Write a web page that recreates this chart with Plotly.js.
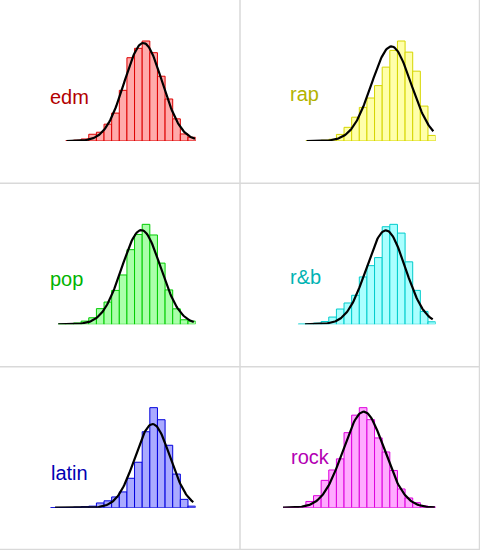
<!DOCTYPE html>
<html><head><meta charset="utf-8">
<script src="https://cdn.plot.ly/plotly-3.0.1.min.js"></script>
<style>html,body{margin:0;padding:0;background:#fff}#chart{width:480px;height:550px}</style>
</head><body><div id="chart"></div>
<script>
// ---- data (danceability-like units, shared bins of width 0.05 from 0 to 1) ----
const genres = ['edm', 'rap', 'pop', 'r&b', 'latin', 'rock'];
const binStart = 0.0;
const binWidth = 0.05;
const edmDensity   = [null,null,null,0.01,0.027,0.067,0.223,0.29,0.556,0.922,1.674,2.752,3.062,3.304,2.918,2.14,1.388,0.732,0.233,0.123];
const rapDensity   = [null,null,null,0.007,0.013,0.026,0.056,0.215,0.446,0.777,1.097,1.404,1.808,2.412,2.958,3.265,2.902,2.28,1.14,0.182];
const popDensity   = [null,null,0.01,0.02,0.044,0.108,0.22,0.525,0.745,1.134,1.651,2.497,3.005,3.344,2.988,2.047,1.151,0.518,0.152,0.108];
const rnbDensity   = [null,null,0.01,0.02,0.041,0.095,0.244,0.514,0.717,0.975,1.591,1.97,2.24,3.276,3.357,3.063,2.098,1.14,0.433,0.085];
const latinDensity = [null,0.004,0.004,0.008,0.021,0.042,0.063,0.196,0.284,0.446,0.655,1.222,1.889,3.157,4.158,3.657,2.594,1.397,0.346,0.063];
const rockDensity  = [0.009,0.015,0.037,0.192,0.371,0.845,1.166,1.51,2.321,2.862,3.094,2.723,2.157,1.723,1.151,0.579,0.3,0.155,0.053,0.025];
const genreMean = [0.657, 0.710, 0.644, 0.674, 0.718, 0.529];
const genreSd   = [0.1232, 0.1291, 0.1265, 0.1265, 0.1147, 0.1343];
const genreMin  = [0.155, 0.155, 0.100, 0.144, 0.079, 0.000];
const genreMax  = [0.996, 0.985, 0.988, 0.981, 0.985, 0.995];

// ---- styles ----
const densities = [edmDensity, rapDensity, popDensity, rnbDensity, latinDensity, rockDensity];
const fillCol = ['#ffaaaa', '#ffffaa', '#aaffaa', '#aaffff', '#aaaaff', '#ffaaff'];
const edgeCol = ['#dd0000', '#d6d600', '#00cc00', '#00cccc', '#0000dd', '#dd00dd'];
const labelCol = ['#b30000', '#b3b300', '#00b300', '#00b3b3', '#0000b3', '#b300b3'];
const W = 480, H = 550;
const colLeft = [43, 283], plotW = 152.6;
const baselines = [141, 324.33, 507.67], plotH = 105;
const labelPos = [[48, 97], [288, 94], [48, 279], [288, 277], [49, 472.5], [289, 457]];

const traces = [];
const layout = {
  width: W, height: H, margin: {l: 0, r: 0, t: 0, b: 0},
  paper_bgcolor: '#ffffff', plot_bgcolor: 'rgba(0,0,0,0)',
  showlegend: false, bargap: 0,
  font: {family: 'Liberation Sans, Arial, sans-serif'},
  annotations: [], shapes: []
};

genres.forEach((g, i) => {
  const row = Math.floor(i / 2), col = i % 2;
  const sfx = i === 0 ? '' : String(i + 1);
  const xa = 'x' + sfx, ya = 'y' + sfx;
  const dens = densities[i];
  const centers = dens.map((_, k) => binStart + (k + 0.5) * binWidth);
  traces.push({
    type: 'bar', x: centers, y: dens, width: binWidth, xaxis: xa, yaxis: ya,
    marker: {color: fillCol[i], line: {color: edgeCol[i], width: 1}},
    cliponaxis: false, hoverinfo: 'skip'
  });
  const n = 150, cx = [], cy = [];
  const m = genreMean[i], s = genreSd[i];
  for (let j = 0; j <= n; j++) {
    const x = genreMin[i] + (genreMax[i] - genreMin[i]) * j / n;
    cx.push(x);
    cy.push(Math.exp(-0.5 * ((x - m) / s) ** 2) / (s * Math.sqrt(2 * Math.PI)));
  }
  traces.push({
    type: 'scatter', mode: 'lines', x: cx, y: cy, xaxis: xa, yaxis: ya,
    line: {color: '#000000', width: 2.2}, cliponaxis: false, hoverinfo: 'skip'
  });
  const maxBar = Math.max(...dens.filter(v => v !== null));
  const bottom = (H - baselines[row]) / H;
  layout['xaxis' + sfx] = {
    domain: [colLeft[col] / W, (colLeft[col] + plotW) / W], range: [0, 1],
    visible: false, anchor: ya, fixedrange: true
  };
  layout['yaxis' + sfx] = {
    domain: [bottom, bottom + plotH / H], range: [0, maxBar * 1.05],
    visible: false, anchor: xa, fixedrange: true
  };
  layout.annotations.push({
    text: g, xref: 'paper', yref: 'paper',
    x: labelPos[i][0] / W, y: 1 - labelPos[i][1] / H,
    xanchor: 'left', yanchor: 'middle', showarrow: false,
    font: {size: 20, color: labelCol[i], family: 'Liberation Sans, Arial, sans-serif'}
  });
});

const gridCol = '#d9d9d9';
[[240, 0, 240, H], [0, 183.33, W, 183.33], [0, 366.67, W, 366.67], [479.5, 0, 479.5, H], [0, 549.5, W, 549.5]]
  .forEach(([x0, y0, x1, y1]) => layout.shapes.push({
    type: 'line', xref: 'paper', yref: 'paper',
    x0: x0 / W, x1: x1 / W, y0: 1 - y0 / H, y1: 1 - y1 / H,
    line: {color: gridCol, width: 1.5}, layer: 'below'
  }));

Plotly.newPlot('chart', traces, layout, {staticPlot: true, displayModeBar: false});
</script>
</body></html>
